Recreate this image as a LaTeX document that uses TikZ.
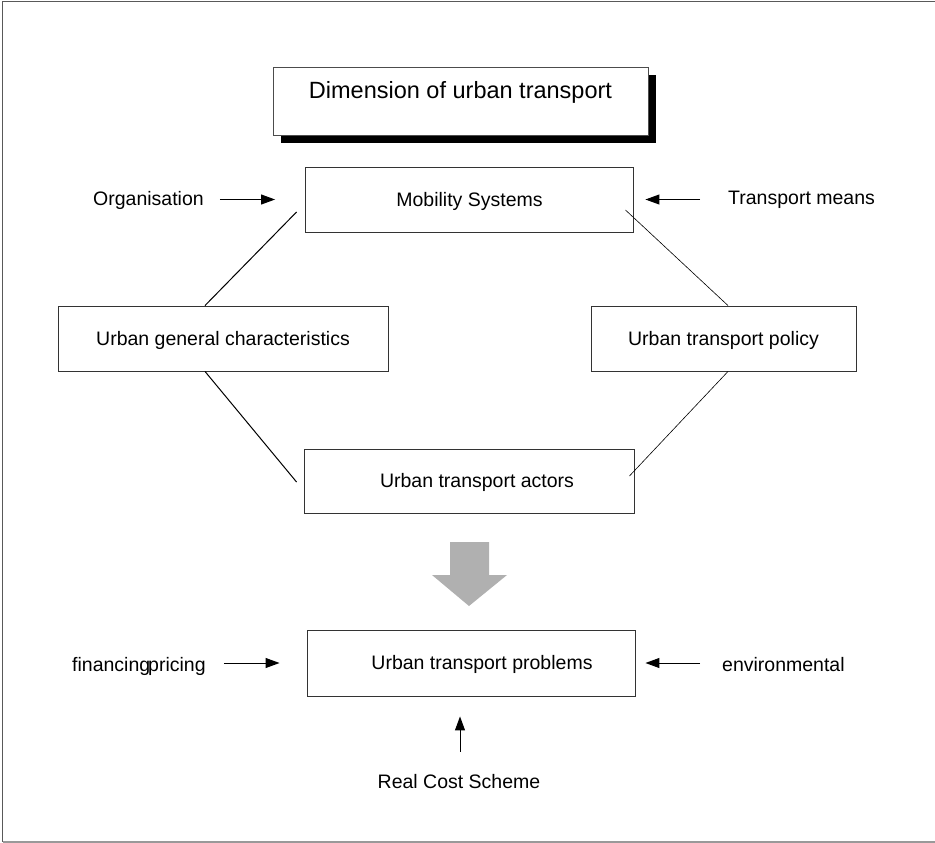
\documentclass[tikz,border=0pt]{standalone}
\usepackage{fontspec}
\setmainfont{Liberation Sans}
\usetikzlibrary{calc,arrows.meta,shadows}
\begin{document}
\begin{tikzpicture}[x=1pt,y=-1pt,
  every node/.style={font=\fontsize{19.5}{23}\selectfont},
  boxnode/.style={draw=black!80, line width=0.9pt, fill=white, inner sep=0pt,
    text height=13pt, text depth=0pt, minimum height=65pt},
  txt/.style={inner sep=0pt},
  link/.style={line width=1pt},
  thinlink/.style={line width=0.6pt},
  arr/.style={line width=1pt, -{Triangle[length=14pt,width=10pt]}}
]
\useasboundingbox (0,0) rectangle (935,843);
% outer frame
\draw[black!65, line width=1.3pt] (935,1.2) -- (2.6,1.2) -- (2.6,842);
\draw[black!40, line width=1.3pt] (2.6,842) -- (935,842);

% title
\node[draw=black!70, line width=0.8pt, fill=white, minimum width=375pt, minimum height=68pt,
  inner sep=0pt, text height=16pt, text depth=20pt,
  font=\fontsize{23.5}{28}\selectfont,
  drop shadow={shadow xshift=8pt, shadow yshift=-8pt, fill=black, opacity=1}]
  (title) at (460.5,101) {Dimension of urban transport};

% boxes
\node[boxnode, minimum width=328pt] (ms) at (469.5,199.5) {Mobility Systems};
\node[boxnode, minimum width=330pt] (ug) at (223,338.5) {Urban general characteristics};
\node[boxnode, minimum width=265pt] (up) at (723.5,338.5) {Urban transport policy};
\node[boxnode, minimum width=330pt, minimum height=64pt] (ua) at (469,481) {\hspace*{16pt}Urban transport actors};
\node[boxnode, minimum width=328pt, minimum height=66pt] (pb) at (471,663) {\hspace*{22pt}Urban transport problems};

% side texts
\node[txt, anchor=base west] (org) at (93,205) {Organisation};
\node[txt, anchor=base west] (tm) at (728,204) {Transport means};
\node[txt, anchor=base west] (fin) at (72,671) {financing};
\node[txt, anchor=base west] (pri) at (148,671) {pricing};
\node[txt, anchor=base west] (env) at (722,671) {environmental};
\node[txt, anchor=base] (rcs) at (459,788) {Real Cost Scheme};

% connecting lines
\draw[link] ($(ms.west)+(-8.5,12.5)$) -- ($(ug.north)+(-18,0)$);
\draw[thinlink] ($(ms.east)+(-8.5,10.5)$) -- ($(up.north)+(4.5,0)$);
\draw[link] ($(ug.south)+(-18,0)$) -- ($(ua.west)+(-7,1)$);
\draw[thinlink] ($(up.south)+(4.5,0)$) -- ($(ua.east)+(-5,-5)$);

% small arrows
\draw[arr] ($(org.east |- ms.west)+(16,0)$) -- ($(ms.west)+(-30,0)$);
\draw[arr] ($(tm.west |- ms.east)+(-28,0)$) -- ($(ms.east)+(11.5,0)$);
\draw[arr] ($(pri.east |- pb.west)+(18,0)$) -- ($(pb.west)+(-27,0)$);
\draw[arr] ($(env.west |- pb.east)+(-22,0)$) -- ($(pb.east)+(10,0)$);
\draw[arr] ($(rcs.north)+(1,-22)$) -- ($(rcs.north |- pb.south)+(1,20)$);

% big grey arrow
\fill[black!31] (450,542) -- (489,542) -- (489,575) -- (507,575) -- (469,606)
  -- (432,575) -- (450,575) -- cycle;
\end{tikzpicture}
\end{document}
